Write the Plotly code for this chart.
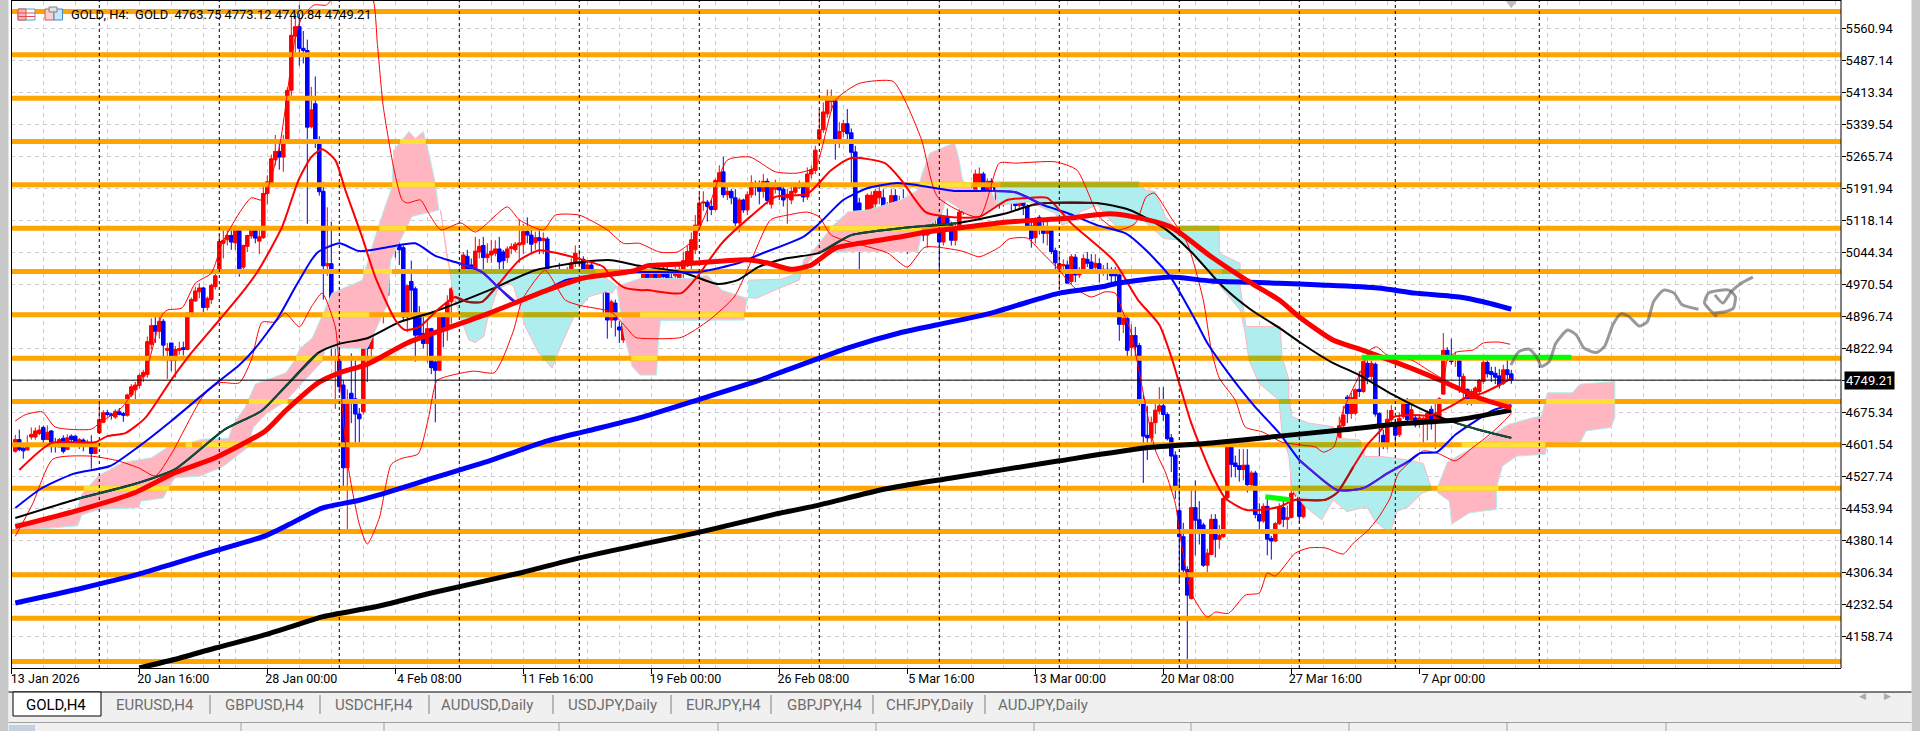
import plotly.graph_objects as go

# ---------- candles (price values) ----------
opens = [
4585,4612,4592,4588,4618,4618,4626,4640,4612,4632,4602,4595,4615,4589,4620,4620,4601,4611,4603,4603,4580,4628,4652,4674,4671,
4664,4676,4672,4668,4715,4727,4737,4758,4762,4832,4875,4862,4885,4818,4835,4795,4818,4824,4820,4900,4932,4953,4962,4917,4935,
4965,5005,5065,5073,5083,5066,5102,5010,5058,5082,5097,5070,5078,5180,5200,5258,5277,5264,5298,5418,5543,5565,5515,5510,5334,
5387,5300,5185,5013,5018,4850,4805,4738,4547,4719,4706,4671,4676,4842,4822,4911,4934,4926,4945,5045,5078,5060,5055,4895,4977,
4960,4895,4857,4834,4868,4791,4772,4897,4865,4930,4957,4960,4965,5035,5015,5003,5045,5060,5032,5038,5042,5052,5045,5032,5053,
5050,5061,5063,5092,5084,5067,5078,5071,5075,4940,4922,4974,4945,4953,4987,5020,5018,5028,4988,5015,5000,4990,4995,4957,4888,
4927,4872,4842,4907,4888,4900,4935,4945,5000,4972,4998,4982,5000,4998,4985,4990,4985,5000,5022,5022,5050,5106,5158,5160,5150,
5143,5208,5230,5177,5185,5170,5112,5165,5142,5177,5203,5195,5185,5208,5155,5190,5198,5190,5170,5165,5183,5195,5200,5172,5225,
5233,5300,5327,5364,5392,5396,5306,5323,5341,5320,5276,5158,5088,5100,5138,5156,5170,5170,5141,5150,5175,5148,5160,5120,5060,
5080,5092,5118,5084,5100,5122,5175,5068,5126,5107,5072,5103,5137,5185,5175,5182,5202,5225,5183,5208,5198,5187,5175,5166,5178,
5168,5152,5187,5150,5105,5078,5125,5103,5088,5102,5048,5003,5013,5015,4977,5033,4992,5004,5028,5022,5010,5018,5002,5005,4998,
4998,4992,4878,4892,4825,4852,4829,4700,4622,4616,4651,4678,4690,4670,4616,4576,4448,4388,4312,4245,4455,4427,4415,4322,4347,
4428,4382,4388,4478,4597,4558,4552,4543,4553,4508,4535,4439,4424,4458,4384,4378,4418,4455,4428,4432,4486,4495,4434,4497,4538,
4569,4540,4511,4548,4565,4569,4573,4644,4710,4672,4673,4728,4723,4788,4758,4786,4672,4622,4600,4658,4651,4623,4665,4700,4658,
4662,4648,4655,4654,4682,4653,4653,4717,4818,4807,4800,4800,4723,4728,4704,4704,4723,4746,4790,4769,4765,4759,4742,4773,4763.75]
highs = [
4623,4635,4605,4622,4640,4640,4645,4644,4645,4634,4616,4616,4622,4624,4624,4622,4616,4615,4612,4622,4605,4697,4680,4680,4674,
4682,4685,4676,4718,4740,4745,4765,4773,4850,4892,4895,4900,4890,4835,4835,4828,4838,4838,4906,4940,4965,4973,4965,4942,4972,
5000,5085,5095,5100,5095,5106,5104,5062,5085,5100,5100,5100,5195,5222,5270,5315,5300,5315,5425,5590,5600,5615,5555,5535,5426,
5450,5312,5207,5148,5115,4895,4825,4750,4728,4811,4800,4685,4848,4870,4950,4955,4994,4960,5060,5100,5100,5068,5060,4970,5025,
4965,4920,4900,4885,4870,4795,4900,4900,4945,4965,4975,4975,5045,5050,5030,5080,5075,5080,5065,5073,5072,5080,5050,5058,5065,
5068,5120,5110,5125,5105,5092,5100,5090,5080,4970,4990,5020,4990,5010,5030,5060,5050,5035,5025,5025,5005,5005,5005,4965,4935,
4935,4885,4905,4925,4950,4945,4955,5010,5005,5005,5008,5015,5015,5010,5005,5010,5015,5045,5060,5090,5130,5180,5185,5165,5165,
5215,5245,5265,5195,5190,5190,5170,5168,5185,5222,5210,5210,5225,5215,5205,5212,5205,5195,5190,5205,5205,5210,5205,5240,5245,
5290,5375,5390,5420,5420,5400,5345,5350,5375,5330,5290,5170,5125,5180,5185,5190,5200,5190,5160,5190,5190,5175,5190,5135,5110,
5160,5150,5125,5135,5165,5180,5180,5130,5145,5115,5110,5145,5190,5195,5195,5235,5240,5230,5215,5215,5205,5195,5180,5190,5185,
5175,5195,5195,5155,5120,5125,5130,5115,5115,5105,5055,5040,5028,5025,5040,5040,5010,5040,5045,5040,5040,5030,5015,5020,5010,
5010,5005,4905,4900,4878,4872,4835,4715,4690,4665,4700,4733,4733,4675,4625,4585,4525,4420,4320,4495,4518,4470,4420,4360,4440,
4440,4415,4480,4610,4610,4575,4590,4590,4590,4540,4540,4465,4465,4475,4390,4422,4465,4470,4460,4530,4540,4530,4530,4550,4585,
4578,4545,4560,4620,4590,4615,4665,4690,4715,4720,4730,4770,4795,4800,4795,4790,4675,4635,4680,4692,4660,4675,4703,4708,4695,
4670,4670,4665,4680,4690,4695,4710,4858,4825,4845,4815,4805,4765,4730,4728,4735,4752,4800,4800,4780,4780,4775,4785,4800,4773.12]
lows = [
4582,4585,4568,4588,4612,4612,4622,4600,4612,4582,4582,4595,4580,4589,4605,4598,4590,4585,4600,4545,4580,4625,4650,4665,4658,
4660,4668,4653,4665,4710,4705,4730,4745,4755,4820,4835,4845,4805,4752,4770,4755,4808,4806,4818,4898,4930,4938,4905,4910,4925,
4958,4995,5030,5060,5050,5050,4988,5005,5045,5075,5065,5040,5075,5155,5195,5245,5235,5230,5295,5405,5500,5475,5480,5110,5330,
5285,5175,4935,4990,4800,4683,4720,4496,4399,4650,4600,4605,4670,4745,4805,4890,4892,4880,4935,5030,5032,5015,4885,4860,4905,
4792,4840,4822,4790,4763,4652,4770,4825,4840,4880,4925,4950,4915,4985,4985,4985,5030,4985,5020,5020,5035,5000,5005,5020,5040,
5045,5020,5040,5065,5040,5050,5040,5040,4880,4880,4835,4920,4935,4925,4975,5010,5010,4970,4965,4975,4980,4975,4900,4845,4870,
4850,4835,4835,4855,4885,4890,4925,4895,4960,4965,4950,4965,4965,4955,4960,4975,4975,4985,5010,5000,5040,5095,5140,5115,5130,
5140,5195,5170,5165,5155,5105,5090,5135,5130,5170,5175,5155,5170,5155,5145,5180,5165,5150,5110,5155,5178,5190,5160,5165,5215,
5225,5290,5320,5355,5370,5258,5285,5310,5305,5205,5070,4997,5070,5095,5120,5130,5155,5115,5115,5140,5140,5140,5090,5040,5050,
5060,5080,5070,5055,5090,5100,4990,5060,5095,5060,5060,5095,5130,5145,5145,5175,5195,5155,5175,5180,5160,5145,5150,5155,5140,
5140,5145,5130,5095,5055,5065,5085,5065,5060,5040,5005,4960,4995,4973,4970,4975,4985,4995,5010,5000,5000,4975,4990,4980,4975,
4970,4840,4858,4805,4800,4800,4690,4512,4565,4605,4625,4670,4655,4610,4537,4475,4285,4295,4068,4243,4345,4370,4318,4306,4345,
4340,4360,4385,4470,4525,4525,4515,4518,4490,4498,4430,4405,4420,4345,4335,4375,4415,4410,4395,4430,4480,4420,4430,4490,4530,
4525,4490,4470,4540,4530,4540,4570,4640,4650,4660,4668,4710,4720,4740,4750,4665,4540,4590,4590,4650,4600,4618,4660,4650,4650,
4640,4640,4605,4610,4635,4590,4650,4715,4795,4785,4780,4720,4700,4692,4690,4695,4715,4740,4755,4745,4740,4730,4738,4745,4740.84]
closes = [
4612,4589,4586,4601,4624,4632,4634,4612,4629,4598,4597,4612,4585,4616,4612,4601,4612,4601,4606,4580,4601,4658,4674,4670,4668,
4677,4670,4668,4715,4734,4738,4760,4767,4838,4875,4862,4885,4830,4822,4795,4820,4822,4820,4904,4935,4955,4962,4917,4938,4968,
4990,5069,5072,5083,5068,5103,5006,5060,5083,5097,5077,5080,5180,5207,5260,5277,5264,5298,5418,5545,5565,5515,5510,5333,5373,
5300,5184,5013,5018,4850,4890,4734,4547,4700,4706,4671,4660,4845,4822,4915,4934,4928,4948,5047,5078,5060,5050,4895,4967,4957,
4853,4853,4834,4868,4778,4772,4895,4865,4928,4960,4968,4965,5038,4997,5003,5047,5058,5032,5040,5047,5052,5022,5025,5052,5057,
5063,5066,5092,5084,5063,5078,5071,5076,4938,4925,4980,4942,4972,4987,5020,5042,5022,4986,5015,4995,4988,4995,4953,4888,4930,
4888,4865,4880,4865,4935,4935,4945,5000,4972,4995,4972,4995,4988,4980,4975,5000,5005,5025,5046,5073,5107,5158,5160,5150,5143,
5210,5228,5177,5185,5170,5112,5165,5142,5177,5205,5195,5185,5208,5164,5195,5200,5188,5165,5178,5185,5195,5202,5172,5225,5235,
5280,5327,5368,5395,5396,5306,5323,5341,5318,5275,5077,5080,5114,5176,5176,5185,5185,5141,5146,5175,5148,5160,5120,5062,5105,
5141,5137,5084,5130,5141,5175,5068,5126,5107,5072,5103,5137,5183,5175,5183,5225,5225,5185,5208,5195,5185,5173,5166,5175,5166,
5152,5187,5152,5103,5076,5120,5100,5088,5103,5046,5020,5018,5016,4973,5034,4992,5002,5030,5019,5007,5019,5002,5005,4996,4990,
4990,4878,4892,4818,4852,4826,4698,4620,4616,4651,4680,4690,4670,4614,4574,4497,4388,4311,4253,4455,4426,4406,4322,4350,4428,
4382,4391,4476,4597,4555,4550,4543,4553,4508,4535,4439,4424,4458,4382,4378,4418,4455,4428,4432,4488,4497,4435,4497,4538,4569,
4538,4511,4550,4565,4569,4575,4644,4669,4672,4709,4727,4723,4792,4756,4788,4671,4640,4600,4659,4679,4622,4661,4696,4658,4681,
4646,4662,4661,4673,4652,4669,4706,4818,4803,4792,4805,4758,4758,4704,4723,4731,4748,4790,4764,4762,4756,4738,4773,4762,4749.21]
assert len(opens) == len(highs) == len(lows) == len(closes) == 375, (len(opens), len(highs), len(lows), len(closes))

# ---------- moving averages (bar, price) ----------
ma_thick_red_x = [0,16.6,30,40,50,62.5,67.5,75.7,81,88,98,108,118.5,133,142,154.5,158,166.5,182.7,187.8,194,199,205,211,221.4,227.6,235.7,248,263,273.5,279.6,288.8,299,309,316,321,329.4,336.6,350,357,366,374]
ma_thick_red_y = [4411,4451,4490,4536,4570,4632,4678,4743,4766,4786,4835,4869,4904,4957,4985,5001,5013,5017,5027,5020,5005,5015,5054,5065,5080,5091,5100,5114,5123,5133,5126,5103,5034,4973,4934,4895,4842,4819,4773,4746,4708,4685]
ma_thick_blue_x = [0,16.6,31,40,50,62.5,68.6,76.7,86,94,104.3,118.5,133,143,156,171.4,185.7,193,209,221,230.6,244,253,261,271.4,275.6,288.8,299,316,326.4,340.7,350,361,367,374]
ma_thick_blue_y = [4235,4269,4302,4327,4355,4390,4417,4454,4472,4493,4523,4563,4609,4632,4662,4706,4748,4773,4826,4858,4877,4904,4929,4950,4964,4973,4987,4978,4973,4969,4962,4950,4941,4930,4913]
ma_thick_black_x = [31,40,50,61.5,69.6,76.7,91,104,127,141,156,171.4,190,200,217.4,233.7,261,282.7,299,316,331.4,345.7,360,374]
ma_thick_black_y = [4085,4105,4131,4159,4182,4203,4228,4258,4306,4339,4369,4399,4440,4459,4498,4523,4563,4593,4604,4620,4634,4648,4657,4680]
ma_red_x = [1,9,20,23,27.5,32.5,39,44,51,56.6,60.8,66.7,70.8,74,76.7,80,82.5,86.7,90,95,97.4,101,106,110,113,116.7,121,126,131,135,141,147,149,152,156,158,166.5,170.4,176.6,183.7,190,198,204,209,217.4,221.5,227.6,233.7,241,248,254,258,264,274.5,280.7,286,289,294,299,302.5,307.5,311.7,316,320,327.5,330.4,334.5,338,341,344.5,349,353,356,359.5,363,366.5,371,374]
ma_red_y = [4542,4604,4606,4620,4627,4662,4750,4812,4888,4950,5003,5103,5211,5264,5282,5257,5188,5080,4987,4888,4865,4872,4915,4941,4930,4930,4973,5026,5049,5043,5029,5011,4987,4964,4957,4957,4950,4987,5065,5126,5172,5179,5234,5262,5250,5211,5137,5126,5126,5165,5170,5170,5111,5026,4934,4877,4803,4650,4535,4477,4450,4450,4457,4473,4473,4489,4549,4600,4630,4664,4669,4667,4676,4692,4711,4718,4738,4754]
ma_blue_x = [0,6.3,14.5,23.7,31,39,50,56,60,65.8,70,74,75.7,81,86,93,100,105,111,116.6,120.7,125,132.5,137.5,142.5,149,156,171,180.6,186.8,197,201,207,213,220.5,225.6,234.7,244,250,257,263,270.4,277.6,282.7,288.8,295,298,303.3,310,316,321,323,330.4,337,343,348,351.3,355.4,360,365.4,369.5,374]
ma_blue_y = [4454,4498,4533,4551,4597,4655,4740,4784,4823,4895,4964,5026,5045,5065,5047,5056,5065,5036,5019,4999,4964,4930,4957,4980,4987,4996,4999,4999,5019,5042,5080,5111,5165,5192,5204,5199,5186,5186,5183,5153,5135,5107,5088,5049,4987,4888,4835,4765,4687,4627,4565,4549,4496,4500,4534,4560,4581,4583,4623,4657,4680,4692]
ma_black_x = [0,15.5,30,40,52.3,61.5,67.6,75.7,81,88,96,104.3,118.5,130,142,149,156,166.5,175.6,180.6,185.7,192,201,209,221.4,235.7,248,254,258,270.4,278.6,287.8,294,302,309,316,321.4,329,336,344.5,353,360.3,365.4,374]
ma_black_y = [4431,4475,4510,4544,4635,4678,4735,4812,4833,4846,4883,4906,4957,5003,5022,5026,5013,4999,4971,4980,5010,5029,5043,5084,5100,5112,5135,5153,5158,5158,5142,5096,5045,4964,4911,4870,4835,4791,4761,4715,4676,4650,4636,4616]
# ---------- Bollinger bands ----------
bb_up_x = [0,2.4,6.7,10,19,21,26.7,32.5,36.7,38,41.7,45,49,51.7,56,59,61.7,66,70,71.7,74.7,77.8,80,85,89.5,90.5,92,94.7,96.7,98,101.3,103.3,106.4,111.4,115,123,126,132,135,141,148,152,156,161,165.5,169.5,173.5,178,183.7,190,195.4,200,205,211,219.4,222.4,226.6,230.6,241,246,250,260,265.4,271,275.6,280,282.7,284.7,288.8,293,297,299,301,305,307.5,311.7,316.7,321,325,327,329.6,332,336,338.7,340.3,343,349,354,357,358,360.3,364.5,367,371,373.7]
bb_up_y = [4655,4669,4676,4641,4636,4650,4687,4768,4900,4911,4916,4973,4996,5065,5135,5170,5165,5287,5541,5587,5615,5615,5640,5700,5626,5527,5380,5234,5165,5158,5165,5135,5096,5112,5091,5149,5119,5096,5130,5130,5096,5065,5065,5045,5045,5073,5153,5257,5264,5230,5227,5241,5395,5434,5439,5395,5303,5172,5126,5250,5250,5253,5234,5126,5096,5111,5172,5181,5126,5065,4934,4819,4754,4703,4641,4630,4606,4600,4595,4583,4595,4680,4761,4819,4826,4807,4796,4768,4754,4796,4814,4819,4835,4837,4832]
bb_dn_x = [0,4.3,9.4,18.6,25.7,31,35,39,47,51,56,59,61.7,65,67.5,71,74,76.7,80,81,83,86,88,91,94,96.7,100.7,103.3,105.4,108.4,114.5,119.7,121.7,124.6,126.7,130,132.5,137.5,141,149,155,156,166.5,173.5,179.7,183,188.8,193,198,201,204,218,223,227.4,236.7,241,246,248.4,253,256,261,263,265,269,272.4,275,276.7,279,281.7,285,287.6,290,291,294,298,300,303.3,307.5,311,313,315,320,323.4,327.5,332,334.5,338,340.7,343.7,345.7,349,352,356,360,364,369,373,374]
bb_dn_y = [4389,4463,4567,4574,4563,4546,4528,4579,4713,4743,4743,4796,4883,4883,4904,4872,4918,4950,4872,4773,4563,4417,4371,4431,4555,4569,4579,4662,4748,4759,4770,4766,4796,4865,4934,4980,5003,4934,4922,4906,4848,4846,4848,4888,4941,5003,5119,5130,5137,5126,5084,5043,5010,5056,5047,5034,5056,5075,5077,5050,5003,4980,4961,4941,4953,4950,4911,4858,4733,4588,4535,4465,4403,4258,4202,4214,4211,4253,4258,4304,4297,4350,4362,4362,4348,4373,4401,4431,4477,4533,4563,4586,4579,4563,4591,4627,4662,4673]

# ---------- Ichimoku cloud outlines (bar, price) ----------
pink1_x = [0,9.5,15.6,16.6,20.7,26.8,34,39,43,46.7,53.3,54.4,57.4,60,67.6,69.7,71.2,74.2,79.2,86.7,89.2,91.3,94.2,94.6,98.4,100,102,103.4,105,105.9,99.2,93.8,93,88,77.5,76.8,67.6,62.5,59.5,58,51.8,46.2,40,38.5,37,31.4,30.9,21.2,16.6,15.6,0]
pink1_y = [4420,4428,4455,4486,4528,4559,4570,4600,4603,4613,4615,4647,4686,4740,4766,4793,4823,4846,4950,4980,5057,5119,5196,5280,5323,5307,5323,5273,5203,5142,5127,5026,4923,4823,4823,4793,4701,4670,4640,4593,4549,4528,4524,4505,4477,4470,4455,4451,4438,4413,4401]
cyan1_x = [106.3,108,108.8,140.9,143,147.2,150.3,149.2,147.5,143.4,140,136.3,134.2,130.9,127.5,124.6,123.4,120.5,118,117.1,115,113.4,110.9,109.2,106.3]
cyan1_y = [5142,5027,5003,5003,5003,4988,4966,4950,4953,4942,4903,4827,4777,4811,4873,4965,4973,4957,4888,4850,4836,4842,4903,4965,5142]
pink2_x = [150.3,156.2,169.5,173,176.6,182.9,182.2,161.3,160.8,160.3,156.2,154.2,152.3,150.3]
pink2_y = [4966,4984,4984,4992,4957,4938,4888,4887,4842,4761,4761,4781,4850,4966]
cyan2_x = [183.2,191.4,196.5,196,189.9,185.3,183.2]
cyan2_y = [4980,4982,4999,4980,4957,4938,4940]
pink3_x = [196.5,197,200,204.2,208.2,213.3,221.5,225.6,226.6,228.6,234.8,235.8,236.8,239.4,244,245.5,240,232.7,231.7,226.6,225.6,209.3,200,196.5]
pink3_y = [4999,5027,5054,5104,5138,5142,5165,5188,5223,5273,5297,5265,5211,5188,5184,5153,5120,5165,5134,5088,5046,5046,5042,4999]
cyan3_x = [245,280.9,282.5,285,287.5,290,299.2,301,301,306.2,306.2,307.7,316.2,316.7,318.4,318.4,319.2,323.4,329.5,330.8,336.2,337.4,341.6,348.3,352,353.7,354.1,351.6,348.3,345.4,343.7,340,337.9,332.9,329.5,326.6,322.5,319.2,318.4,316.7,315.9,310.9,308.4,307.5,306.2,302,293.4,290.9,287.1,280.9,279.2,275.9,270.5,266.3,265,261.7,260,253.4,245.5,245]
cyan3_y = [5207,5207,5188,5184,5127,5100,5100,5100,5042,5019,4965,4873,4873,4803,4750,4703,4665,4650,4642,4615,4611,4573,4573,4565,4557,4511,4497,4488,4457,4446,4396,4423,4457,4446,4473,4427,4457,4496,4573,4627,4703,4742,4796,4857,4911,4957,5050,5073,5076,5127,5100,5096,5153,5138,5119,5107,5134,5161,5153,5207]
pink4_x = [355.5,358,364.2,373.3,379.5,381.5,383,389.2,391.2,399.9,399.9,398.9,392.7,391.2,383,382.5,375.4,371.8,370.3,370.3,363.6,359.1,358.5,355.5]
pink4_y = [4501,4560,4593,4647,4663,4666,4720,4720,4740,4746,4663,4640,4632,4605,4601,4578,4574,4551,4501,4451,4443,4417,4470,4490]

# where the cloud covers an orange level: (price level, first bar, last bar)
yellow_level = [4500,4600,4600,4700,4800,4900,5000,5100,5200,5300,4900,4800,5100,5200,4500,4600,4700]
yellow_start = [17.1,42.6,46.7,58.4,70.2,76.8,87,91,94.2,96.2,156.2,154,203.6,226,355.5,361.6,382.7]
yellow_end   = [38.5,44.2,58,68.1,76.8,88.5,94.2,97.7,104.9,102.6,182.2,160.5,226.6,239,370.8,382.5,399.9]
olive_level = [5000,4900,4900,4800,5200,5100,5000,4800,4700,4600,4500]
olive_start = [108.5,111.3,127.1,131.7,246.3,291,301.6,308.3,315.9,318,319.2]
olive_end   = [145,118.4,140.9,135,280.9,301,306.2,316.5,318.8,336.6,354]

# ---------- objects ----------
orange_levels = [5600,5500,5400,5300,5200,5100,5000,4900,4800,4700,4600,4500,4400,4300,4200,4100]
separator_bars = [21,51,81,111,141,171,201,231,261,291,321,345,381]
last_price = 4749.21
green_long_x = [336.6,389]
green_long_y = [4802,4802]
green_short_x = [312.5,315,318.7]
green_short_y = [4480,4476,4473]
squiggle1_x = [373.9,375.9,378.4,380.5,381.5,383.5,385.1,388.1,390.2,392.2,395.3,397.3,399.4,401.4,403.4,406,408,409.6,412.1,414.7,416.7,420.8]
squiggle1_y = [4784,4815,4821,4800,4781,4792,4834,4865,4854,4823,4813,4827,4877,4902,4896,4874,4884,4931,4957,4950,4923,4913]
squiggle2_x = [425.4,424.4,422.3,423.3,428.4,430,429.5,427.4,424.4]
squiggle2_y = [4896,4904,4927,4950,4957,4942,4915,4907,4904]
squiggle3_x = [424.9,426.9,429,431.5,434.4]
squiggle3_y = [4946,4927,4954,4973,4987]

# ---------- axes text ----------
y_ticks = [5560.94,5487.14,5413.34,5339.54,5265.74,5191.94,5118.14,5044.34,4970.54,4896.74,4822.94,4749.14,4675.34,4601.54,4527.74,4453.94,4380.14,4306.34,4232.54,4158.74]
x_tick_bars = [-1,31,63,95,127,159,191,223,255,287,319,351]
x_tick_text = ["13 Jan 2026","20 Jan 16:00","28 Jan 00:00","4 Feb 08:00","11 Feb 16:00","19 Feb 00:00","26 Feb 08:00","5 Mar 16:00","13 Mar 00:00","20 Mar 08:00","27 Mar 16:00","7 Apr 00:00"]
x_grid_bars = list(range(-1, 456, 8))
chart_title = "GOLD, H4:  GOLD  4763.75 4773.12 4740.84 4749.21"
tab_names = ["EURUSD,H4","GBPUSD,H4","USDCHF,H4","AUDUSD,Daily","USDJPY,Daily","EURJPY,H4","GBPJPY,H4","CHFJPY,Daily","AUDJPY,Daily"]
tab_left = [114,223,333,439,566,684,785,884,996]
tab_seps = [210,320,429,553,671,771,873,985]
status_seps = [241,384,559,718,876,1034,1191,1349,1507,1666]

# ---------- layout constants ----------
W, H = 1920, 731
FONT = "Roboto"
PINK, CYAN, ORANGE = "#FFB6C1", "#AFEEEE", "#FFA500"
GRID = "#cdcdcd"
X0, X1 = -1.075, 456.425
YB, YT = 4084.9, 5624.2

fig = go.Figure()

def line(xs, ys, color, width, dash=None, smooth=False):
    style = dict(color=color, width=width, dash=dash)
    if smooth:
        style.update(shape="spline", smoothing=0.6)
    fig.add_trace(go.Scatter(x=xs, y=ys, mode="lines", hoverinfo="skip", showlegend=False, line=style))

def cloud(xs, ys, fill, edge):
    fig.add_trace(go.Scatter(x=xs, y=ys, mode="lines", fill="toself", fillcolor=fill, hoverinfo="skip",
                             showlegend=False, line=dict(color=edge, width=1)))

def part(xs, ys, a, b, color, width):
    keep = [(x, y) for x, y in zip(xs, ys) if a <= x <= b]
    line([k[0] for k in keep], [k[1] for k in keep], color, width, smooth=True)

# clouds
cloud(pink1_x, pink1_y, PINK, CYAN)
cloud(cyan1_x, cyan1_y, CYAN, PINK)
cloud(pink2_x, pink2_y, PINK, CYAN)
cloud(cyan2_x, cyan2_y, CYAN, PINK)
cloud(pink3_x, pink3_y, PINK, CYAN)
cloud(cyan3_x, cyan3_y, CYAN, PINK)
cloud(pink4_x, pink4_y, PINK, CYAN)

# orange levels
for lv in orange_levels:
    line([X0, X1], [lv, lv], ORANGE, 5)
for lv, a, b in zip(yellow_level, yellow_start, yellow_end):
    line([a, b], [lv, lv], "#FFE135", 5)
for lv, a, b in zip(olive_level, olive_start, olive_end):
    line([a, b], [lv, lv], "#AFAF14", 5)

# period separators
sx, sy = [], []
for b in separator_bars:
    sx += [b, b, None]
    sy += [YB, YT, None]
line(sx, sy, "black", 1, "3px,3px")

# candles
fig.add_trace(go.Candlestick(x=list(range(len(opens))), open=opens, high=highs, low=lows, close=closes,
    increasing=dict(line=dict(color="#FF0000", width=1), fillcolor="#FF0000"),
    decreasing=dict(line=dict(color="#0000FF", width=1), fillcolor="#0000FF"),
    whiskerwidth=0, hoverinfo="skip", showlegend=False))

# bands and averages
line(bb_up_x, bb_up_y, "#FF0000", 1, smooth=True)
line(bb_dn_x, bb_dn_y, "#FF0000", 1, smooth=True)
line(ma_black_x, ma_black_y, "#000000", 2, smooth=True)
line(ma_blue_x, ma_blue_y, "#0000FF", 2, smooth=True)
line(ma_red_x, ma_red_y, "#FF0000", 2, smooth=True)
# darker tints where thin lines cross the cloud
part(ma_black_x, ma_black_y, 15, 75.7, "#0F4D3C", 2)
part(ma_black_x, ma_black_y, 201, 236, "#0F4D3C", 2)
part(ma_black_x, ma_black_y, 254, 271, "#501010", 2)
part(ma_black_x, ma_black_y, 360, 374, "#0F4D3C", 2)
part(ma_red_x, ma_red_y, 110, 121, "#8B1A1A", 2)
part(ma_red_x, ma_red_y, 320, 334.5, "#A01818", 2)
part(ma_blue_x, ma_blue_y, 111, 125, "#4A18E0", 2)
part(ma_blue_x, ma_blue_y, 244, 257, "#4A18E0", 2)
part(ma_blue_x, ma_blue_y, 321, 348, "#5A18E0", 2)
line(ma_thick_black_x, ma_thick_black_y, "#000000", 5, smooth=True)
line(ma_thick_blue_x, ma_thick_blue_y, "#0000FF", 5, smooth=True)
line(ma_thick_red_x, ma_thick_red_y, "#FF0000", 5, smooth=True)

# current price, drawn objects
line([X0, X1], [last_price, last_price], "#000000", 1)
line(green_long_x, green_long_y, "#00FF00", 5)
line(green_short_x, green_short_y, "#00FF00", 5)
for xs, ys in [(squiggle1_x, squiggle1_y), (squiggle2_x, squiggle2_y), (squiggle3_x, squiggle3_y)]:
    line(xs, ys, "rgba(90,90,90,0.62)", 3, smooth=True)
fig.add_trace(go.Scatter(x=[374], y=[5619], mode="markers", hoverinfo="skip", showlegend=False,
                         marker=dict(symbol="triangle-down", size=10, color="#BDBDBD")))

# window chrome
shapes = []
def rect(x0, y0, x1, y1, fill, edge=None, w=0):
    shapes.append(dict(type="rect", xref="paper", yref="paper", x0=x0/W, x1=x1/W, y0=1-y0/H, y1=1-y1/H,
                       fillcolor=fill, line=dict(color=edge or fill, width=w), layer="above"))
def seg(x0, y0, x1, y1, color, w=1):
    shapes.append(dict(type="line", xref="paper", yref="paper", x0=x0/W, x1=x1/W, y0=1-y0/H, y1=1-y1/H,
                       line=dict(color=color, width=w), layer="above"))

rect(0, 0, 8.5, H, "#C8C8C8")
rect(1911.5, 0, W, H, "#C8C8C8")
rect(8.5, 692, 1911.5, 722, "#F0F0F0")
rect(8.5, 722, 1911.5, H, "#F0F0F0")
seg(8.5, 692, 1911.5, 692, "#000000")
seg(8.5, 722.5, 1911.5, 722.5, "#A0A0A0")
seg(11, 0.5, 1841, 0.5, "#000000")
seg(11.5, 0, 11.5, 668, "#000000")
seg(1841, 0, 1841, 668, "#000000")
rect(13, 692, 101, 716, "#FFFFFF", "#000000", 1)
rect(9, 725, 35, H, "#C4D0DE")
for x in tab_seps:
    seg(x, 695, x, 714, "#808080")
for x in status_seps:
    seg(x, 723, x, H, "#A0A0A0")
# toolbar icons
rect(18, 9, 35, 20, "#FFFFFF", "#5A9BD5", 1)
rect(18, 9, 26, 20, "#F4B6B6", "#E05050", 1)
seg(18, 13, 35, 13, "#E05050")
seg(18, 16.5, 35, 16.5, "#E05050")
rect(45, 9, 54, 20, "#F8D0D0", "#E05050", 1)
rect(54, 9, 62.5, 20, "#CFE4F7", "#3C8CD0", 1)
rect(49, 7, 57, 12, "#E0E0E0", "#808080", 1)

annotations = [
    dict(text=chart_title, xref="paper", yref="paper", x=68.5/W, y=1-14.7/H, xanchor="left", yanchor="middle",
         showarrow=False, font=dict(family=FONT, size=12.9, color="#000000")),
    dict(text=f"{last_price:.2f}", xref="paper", yref="y", x=1844/W, y=last_price, xanchor="left", yanchor="middle",
         showarrow=False, bgcolor="#000000", borderpad=1, font=dict(family=FONT, size=13, color="#FFFFFF")),
    dict(text="GOLD,H4", xref="paper", yref="paper", x=24/W, y=1-704.5/H, xanchor="left", yanchor="middle",
         showarrow=False, font=dict(family=FONT, size=15, color="#000000")),
    dict(text="◀", xref="paper", yref="paper", x=1868/W, y=1-704/H, showarrow=False, font=dict(size=9, color="#AAAAAA")),
    dict(text="▶", xref="paper", yref="paper", x=1893/W, y=1-704/H, showarrow=False, font=dict(size=9, color="#AAAAAA")),
]
for name, left in zip(tab_names, tab_left):
    annotations.append(dict(text=name, xref="paper", yref="paper", x=left/W, y=1-705/H, xanchor="left", yanchor="middle",
                            showarrow=False, font=dict(family=FONT, size=15, color="#6E6E6E")))

fig.update_layout(
    width=W, height=H, autosize=False, margin=dict(l=0, r=0, t=0, b=0),
    paper_bgcolor="#FFFFFF", plot_bgcolor="#FFFFFF", showlegend=False, hovermode=False,
    boxgap=0.12, boxgroupgap=0, shapes=shapes, annotations=annotations,
    xaxis=dict(domain=[11/W, 1841/W], range=[X0, X1], rangeslider=dict(visible=False), zeroline=False,
               tickmode="array", tickvals=x_tick_bars, ticktext=x_tick_text, ticks="outside", ticklen=5,
               tickcolor="#000000", ticklabelshift=34, ticklabelstandoff=-6,
               tickfont=dict(family=FONT, size=12.5, color="#000000"),
               showgrid=True, gridcolor=GRID, griddash="4px,4px", gridwidth=1,
               minor=dict(tickmode="array", tickvals=x_grid_bars, showgrid=True, gridcolor=GRID,
                          griddash="4px,4px", gridwidth=1, ticks=""),
               showline=True, linecolor="#000000", linewidth=1),
    yaxis=dict(domain=[1-668/H, 1-1/H], range=[YB, YT], side="right", anchor="x", zeroline=False,
               tickmode="array", tickvals=y_ticks, ticktext=[f"{v:.2f}" for v in y_ticks],
               ticks="outside", ticklen=4, tickcolor="#000000", ticklabelstandoff=-3,
               tickfont=dict(family=FONT, size=13, color="#000000"),
               showgrid=True, gridcolor=GRID, griddash="4px,4px", gridwidth=1, showline=False),
)

fig.write_html("out.html", config={"displayModeBar": False},
               post_script="document.body.style.margin='0';document.body.style.overflow='hidden';")
